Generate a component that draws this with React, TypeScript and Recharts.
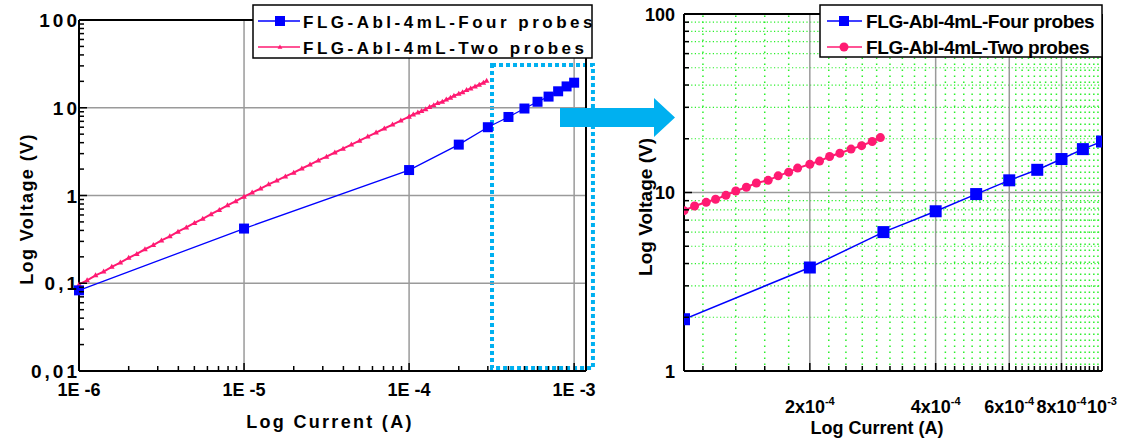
import { LineChart, Line, XAxis, YAxis, ReferenceLine, ReferenceArea } from 'recharts';

// four-probe measurement (blue squares)
const fourCurrent = [1e-6, 1e-5, 1e-4, 2e-4, 3e-4, 4e-4, 5e-4, 6e-4, 7e-4, 8e-4, 9e-4, 1e-3];
const fourVoltage = [0.083, 0.42, 1.95, 3.8, 6.0, 7.85, 9.8, 11.7, 13.4, 15.4, 17.5, 19.3];

// two-probe measurement (pink)
const twoCurrent = [
  1.0e-6, 1.12e-6, 1.26e-6, 1.41e-6, 1.58e-6, 1.78e-6, 2.0e-6, 2.24e-6, 2.51e-6, 2.82e-6,
  3.16e-6, 3.55e-6, 3.98e-6, 4.47e-6, 5.01e-6, 5.62e-6, 6.31e-6, 7.08e-6, 7.94e-6, 8.91e-6,
  1.0e-5, 1.12e-5, 1.26e-5, 1.41e-5, 1.58e-5, 1.78e-5, 2.0e-5, 2.24e-5, 2.51e-5, 2.82e-5,
  3.16e-5, 3.55e-5, 3.98e-5, 4.47e-5, 5.01e-5, 5.62e-5, 6.31e-5, 7.08e-5, 7.94e-5, 8.91e-5,
  1.0e-4, 1.06e-4, 1.13e-4, 1.19e-4, 1.26e-4, 1.33e-4, 1.41e-4, 1.49e-4, 1.59e-4, 1.68e-4,
  1.78e-4, 1.87e-4, 2.0e-4, 2.11e-4, 2.23e-4, 2.36e-4, 2.51e-4, 2.66e-4, 2.82e-4, 2.95e-4,
];
const twoVoltage = [
  0.097, 0.108, 0.123, 0.136, 0.154, 0.172, 0.195, 0.216, 0.244, 0.272,
  0.308, 0.343, 0.387, 0.432, 0.487, 0.543, 0.613, 0.684, 0.772, 0.862,
  0.97, 1.08, 1.2, 1.34, 1.48, 1.65, 1.82, 2.03, 2.25, 2.51,
  2.77, 3.09, 3.42, 3.81, 4.22, 4.7, 5.21, 5.8, 6.43, 7.15,
  7.91, 8.4, 8.81, 9.16, 9.64, 10.2, 10.7, 11.3, 11.7, 12.4,
  13.0, 13.7, 14.4, 15.0, 15.9, 16.6, 17.5, 18.3, 19.3, 20.3,
];

const leftXTicks = [1e-6, 1e-5, 1e-4, 1e-3];
const leftXLabels = ['1E -6', '1E -5', '1E -4', '1E -3'];
const leftYTicks = [0.01, 0.1, 1, 10, 100];
const leftYLabels = ['0,01', '0,1', '1', '10', '100'];
const minorSteps = [2, 3, 4, 5, 6, 7, 8, 9];

const rightXTicks = [2e-4, 4e-4, 6e-4, 8e-4, 1e-3];
const rightXBase = ['2x10', '4x10', '6x10', '8x10', '10'];
const rightXExp = ['-4', '-4', '-4', '-4', '-3'];
// minor ticks of the zoomed axis, in units of 1e-4 A
const rightXMinor = [
  1.11, 1.33, 1.56, 1.78,
  2.22, 2.44, 2.67, 2.89, 3.11, 3.33, 3.56, 3.78,
  4.22, 4.44, 4.67, 4.89, 5.11, 5.33, 5.56, 5.78,
  6.22, 6.44, 6.67, 6.89, 7.11, 7.33, 7.56, 7.78,
  8.22, 8.44, 8.67, 8.89, 9.11, 9.33, 9.56, 9.78,
];
const rightYTicks = [1, 10, 100];
const rightYLabels = ['1', '10', '100'];
const rightYMinor = [2, 3, 4, 5, 6, 7, 8, 9, 20, 30, 40, 50, 60, 70, 80, 90];

const zoomBox = { x1: 3.18e-4, x2: 1.3e-3, y1: 0.0108, y2: 30.8 };

const BLUE = '#0000ff';
const PINK = '#ff1a72';
const CYAN = '#00b0f0';
const GRID = '#9a9a9a';
const GREEN = '#2aef2a';
const FONT = '"Liberation Sans", Arial, sans-serif';

const fourData = fourCurrent.map((i, k) => ({ i, v: fourVoltage[k] }));
const twoData = twoCurrent.map((i, k) => ({ i, v: twoVoltage[k] }));
const fourZoom = fourData.filter((d) => d.i >= 0.999e-4);
const twoZoom = twoData.filter((d) => d.i >= 0.999e-4);

const leftXAll = [...leftXTicks, ...[1e-6, 1e-5, 1e-4].flatMap((d) => minorSteps.map((m) => m * d))];
const leftYAll = [...leftYTicks, ...[0.01, 0.1, 1, 10].flatMap((d) => minorSteps.map((m) => m * d))];
const rightXMinorA = rightXMinor.map((m) => m * 1e-4);
const rightXAll = [...rightXTicks, ...rightXMinorA];
const rightYAll = [...rightYTicks, ...rightYMinor];

const majorIndex = (list: number[], v: number) => list.findIndex((m) => Math.abs(v / m - 1) < 1e-6);

const txt = { fontFamily: FONT, fontWeight: 700, fill: '#000' };

// tick factory: inward tick marks, optional label
function makeTick(side: 'bottom' | 'top' | 'left' | 'right', majors: number[], label?: (k: number, x: number, y: number) => any) {
  return (props: any) => {
    const { x, y, payload } = props;
    const k = majorIndex(majors, payload.value);
    const len = k >= 0 ? 8 : 5;
    let l;
    if (side === 'bottom') l = <line x1={x} x2={x} y1={y} y2={y - len} stroke="#000" strokeWidth={1.5} />;
    else if (side === 'top') l = <line x1={x} x2={x} y1={y} y2={y + len} stroke="#000" strokeWidth={1.5} />;
    else if (side === 'left') l = <line x1={x} x2={x + len} y1={y} y2={y} stroke="#000" strokeWidth={1.5} />;
    else l = <line x1={x} x2={x - len} y1={y} y2={y} stroke="#000" strokeWidth={1.5} />;
    return (
      <g>
        {l}
        {k >= 0 && label ? label(k, x, y) : null}
      </g>
    );
  };
}

const Square = (size: number) => (p: any) => (
  <rect key={p.key} x={p.cx - size / 2} y={p.cy - size / 2} width={size} height={size} fill={BLUE} />
);
const Tri = (p: any) => (
  <path key={p.key} d={`M${p.cx},${p.cy - 3} L${p.cx + 2.8},${p.cy + 2} L${p.cx - 2.8},${p.cy + 2} Z`} fill={PINK} />
);
const Circle = (p: any) => <circle key={p.key} cx={p.cx} cy={p.cy} r={4.5} fill={PINK} />;

function LeftChart() {
  return (
    <LineChart width={600} height={444} margin={{ top: 19, right: 13, bottom: 0, left: 0 }}>
      <XAxis
        dataKey="i"
        type="number"
        scale="log"
        domain={[1e-6, 1.18e-3]}
        ticks={leftXAll}
        interval={0}
        height={73}
        tickSize={0}
        tickMargin={0}
        tickLine={false}
        axisLine={{ stroke: '#000', strokeWidth: 2 }}
        tick={makeTick('bottom', leftXTicks, (k, x, y) => (
          <text x={x} y={y + 25} textAnchor="middle" fontSize={18} {...txt}>{leftXLabels[k]}</text>
        ))}
      />
      <XAxis
        xAxisId="t"
        orientation="top"
        type="number"
        scale="log"
        domain={[1e-6, 1.18e-3]}
        ticks={leftXAll}
        interval={0}
        height={1}
        tickSize={0}
        tickMargin={0}
        tickLine={false}
        axisLine={{ stroke: '#000', strokeWidth: 2 }}
        tick={makeTick('top', leftXTicks)}
      />
      <YAxis
        type="number"
        scale="log"
        domain={[0.01, 100]}
        ticks={leftYAll}
        interval={0}
        width={79}
        tickSize={0}
        tickMargin={0}
        tickLine={false}
        axisLine={{ stroke: '#000', strokeWidth: 2 }}
        tick={makeTick('left', leftYTicks, (k, x, y) => (
          <text x={x + 1} y={y + 7} textAnchor="end" fontSize={19} letterSpacing={3} {...txt}>{leftYLabels[k]}</text>
        ))}
      />
      <YAxis
        yAxisId="r"
        orientation="right"
        type="number"
        scale="log"
        domain={[0.01, 100]}
        ticks={leftYAll}
        interval={0}
        width={1}
        tickSize={0}
        tickMargin={0}
        tickLine={false}
        axisLine={{ stroke: '#000', strokeWidth: 2 }}
        tick={makeTick('right', leftYTicks)}
      />
      {leftXTicks.slice(1).map((v) => (
        <ReferenceLine key={'gx' + v} x={v} stroke={GRID} strokeWidth={1.5} />
      ))}
      {leftYTicks.slice(1, -1).map((v) => (
        <ReferenceLine key={'gy' + v} y={v} stroke={GRID} strokeWidth={1.5} />
      ))}
      <Line data={twoData} dataKey="v" stroke={PINK} strokeWidth={2} dot={Tri} isAnimationActive={false} />
      <Line data={fourData} dataKey="v" stroke={BLUE} strokeWidth={1.3} dot={Square(10)} isAnimationActive={false} />
      <ReferenceArea
        x1={zoomBox.x1}
        x2={zoomBox.x2}
        y1={zoomBox.y1}
        y2={zoomBox.y2}
        ifOverflow="visible"
        fill="none"
        stroke={CYAN}
        strokeWidth={4}
        strokeDasharray="4 3"
      />
    </LineChart>
  );
}

function RightChart() {
  return (
    <LineChart width={523} height={444} margin={{ top: 13, right: 20, bottom: 0, left: 0 }}>
      <XAxis
        dataKey="i"
        type="number"
        scale="log"
        domain={[1e-4, 1e-3]}
        allowDataOverflow
        ticks={rightXAll}
        interval={0}
        height={73}
        tickSize={0}
        tickMargin={0}
        tickLine={false}
        axisLine={{ stroke: '#000', strokeWidth: 2 }}
        tick={makeTick('bottom', rightXTicks, (k, x, y) => (
          <text x={x} y={y + 42} textAnchor="middle" fontSize={18} {...txt}>
            {rightXBase[k]}
            <tspan dy={-8} fontSize={11}>{rightXExp[k]}</tspan>
          </text>
        ))}
      />
      <XAxis
        xAxisId="t"
        orientation="top"
        type="number"
        scale="log"
        domain={[1e-4, 1e-3]}
        ticks={rightXAll}
        interval={0}
        height={1}
        tickSize={0}
        tickMargin={0}
        tickLine={false}
        axisLine={{ stroke: '#000', strokeWidth: 2 }}
        tick={makeTick('top', rightXTicks)}
      />
      <YAxis
        type="number"
        scale="log"
        domain={[1, 100]}
        allowDataOverflow
        ticks={rightYAll}
        interval={0}
        width={84}
        tickSize={0}
        tickMargin={0}
        tickLine={false}
        axisLine={{ stroke: '#000', strokeWidth: 2 }}
        tick={makeTick('left', rightYTicks, (k, x, y) => (
          <text x={x - 9} y={y + 6.5} textAnchor="end" fontSize={18} {...txt}>{rightYLabels[k]}</text>
        ))}
      />
      <YAxis
        yAxisId="r"
        orientation="right"
        type="number"
        scale="log"
        domain={[1, 100]}
        ticks={rightYAll}
        interval={0}
        width={1}
        tickSize={0}
        tickMargin={0}
        tickLine={false}
        axisLine={{ stroke: '#000', strokeWidth: 2 }}
        tick={makeTick('right', rightYTicks)}
      />
      {rightXMinorA.map((v) => (
        <ReferenceLine key={'mx' + v} x={v} stroke={GREEN} strokeWidth={1.5} strokeDasharray="1.5 4.5" />
      ))}
      {rightYMinor.map((v) => (
        <ReferenceLine key={'my' + v} y={v} stroke={GREEN} strokeWidth={1.2} strokeDasharray="1.2 2.4" />
      ))}
      {rightXTicks.slice(0, -1).map((v) => (
        <ReferenceLine key={'gx' + v} x={v} stroke={GRID} strokeWidth={1.5} />
      ))}
      <ReferenceLine y={10} stroke={GRID} strokeWidth={1.5} />
      <Line data={twoZoom} dataKey="v" stroke={PINK} strokeWidth={2} dot={Circle} isAnimationActive={false} />
      <Line data={fourZoom} dataKey="v" stroke={BLUE} strokeWidth={1.5} dot={Square(12)} isAnimationActive={false} />
    </LineChart>
  );
}

function Overlay() {
  return (
    <svg width={1123} height={444} style={{ position: 'absolute', left: 0, top: 0, pointerEvents: 'none' }}>
      {/* arrow between the two panels */}
      <polygon points="560,108 654,108 654,98 675,117.5 654,137 654,127 560,127" fill={CYAN} />

      {/* left legend */}
      <g transform="translate(253,5)">
        <rect x={0} y={0} width={339} height={53} fill="#fff" stroke="#000" strokeWidth={1.5} />
        <line x1={5} x2={47} y1={16} y2={16} stroke={BLUE} strokeWidth={1.5} />
        <rect x={22} y={11} width={10} height={10} fill={BLUE} />
        <text x={50} y={22.5} fontSize={17} letterSpacing={3.5} {...txt}>FLG-Abl-4mL-Four probes</text>
        <line x1={5} x2={47} y1={42} y2={42} stroke={PINK} strokeWidth={1.5} />
        <path d="M27,39.4 L29.4,43.8 L24.6,43.8 Z" fill={PINK} />
        <text x={50} y={48.5} fontSize={17} letterSpacing={3.5} {...txt}>FLG-Abl-4mL-Two probes</text>
      </g>

      {/* right legend */}
      <g transform="translate(820,5)">
        <rect x={0} y={0} width={282} height={52} fill="#fff" stroke="#000" strokeWidth={1.5} />
        <line x1={7} x2={42} y1={16} y2={16} stroke={BLUE} strokeWidth={1.5} />
        <rect x={19} y={11} width={10} height={10} fill={BLUE} />
        <text x={46} y={23} fontSize={19} letterSpacing={-0.4} {...txt}>FLG-Abl-4mL-Four probes</text>
        <line x1={7} x2={42} y1={42} y2={42} stroke={PINK} strokeWidth={1.5} />
        <circle cx={24} cy={42} r={4.5} fill={PINK} />
        <text x={46} y={49} fontSize={19} letterSpacing={-0.4} {...txt}>FLG-Abl-4mL-Two probes</text>
      </g>

      {/* axis titles */}
      <text x={330} y={428} textAnchor="middle" fontSize={18} letterSpacing={2.3} {...txt}>Log Current (A)</text>
      <text transform="translate(33,209) rotate(-90)" textAnchor="middle" fontSize={18} letterSpacing={1.4} {...txt}>Log Voltage (V)</text>
      <text x={877} y={434} textAnchor="middle" fontSize={18} {...txt}>Log Current (A)</text>
      <text transform="translate(652,207) rotate(-90)" textAnchor="middle" fontSize={19} {...txt}>Log Voltage (V)</text>
    </svg>
  );
}

export default function App() {
  return (
    <div style={{ position: 'absolute', left: 0, top: 0, width: 1123, height: 444, background: '#fff', overflow: 'hidden' }}>
      <div style={{ position: 'absolute', left: 0, top: 0 }}>
        <LeftChart />
      </div>
      <div style={{ position: 'absolute', left: 600, top: 0 }}>
        <RightChart />
      </div>
      <Overlay />
    </div>
  );
}
